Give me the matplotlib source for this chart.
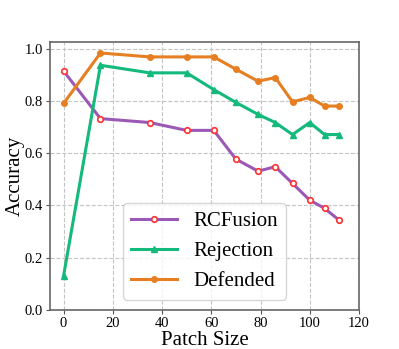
import matplotlib.pyplot as plt

plt.rcParams['font.family'] = ['Liberation Serif', 'DejaVu Serif']

patch_size = [0, 15, 35, 50, 61, 70, 79, 86, 93, 100, 106, 112]
rcfusion = [0.914, 0.732, 0.717, 0.687, 0.687, 0.577, 0.531, 0.548, 0.484, 0.420, 0.389, 0.343]
rejection = [0.130, 0.936, 0.907, 0.907, 0.843, 0.794, 0.748, 0.717, 0.671, 0.717, 0.671, 0.671]
defended = [0.790, 0.983, 0.968, 0.968, 0.968, 0.921, 0.875, 0.889, 0.796, 0.813, 0.780, 0.780]

fig = plt.figure(figsize=(3.99, 3.49), dpi=100)
ax = fig.add_axes([50/399, 1-310/349, 309/399, 268/349])

ax.plot(patch_size, rcfusion, color='#9b59b6', lw=2.2, marker='o', ms=4,
        mfc='white', mec='#ff3030', mew=1.2, label='RCFusion')
ax.plot(patch_size, rejection, color='#14b97c', lw=2.2, marker='^', ms=4,
        label='Rejection')
ax.plot(patch_size, defended, color='#e67e22', lw=2.2, marker='o', ms=4,
        label='Defended')

ax.set_xlim(-5.5, 120)
ax.set_ylim(0, 1.025)
ax.set_xticks([0, 20, 40, 60, 80, 100, 120])
ax.set_yticks([0.0, 0.2, 0.4, 0.6, 0.8, 1.0])
ax.grid(True, ls='--', color='#c4c4c4', lw=0.8)
ax.tick_params(labelsize=10.5, color='#555555', length=3, pad=2)
for s in ax.spines.values():
    s.set_color('#666666')
    s.set_linewidth(1.2)

ax.set_xlabel('Patch Size', fontsize=15, labelpad=1)
ax.set_ylabel('Accuracy', fontsize=15, labelpad=0)
ax.legend(loc='lower center', fontsize=15, handlelength=2.2)

fig.savefig('out.png', dpi=100)
